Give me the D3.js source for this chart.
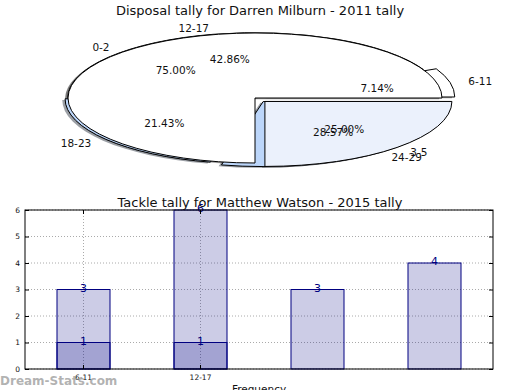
<!DOCTYPE html>
<html>
<head>
<meta charset="utf-8">
<script src="https://cdn.jsdelivr.net/npm/d3@7"></script>
<style>
  body { margin: 0; background: #fff; }
  svg { font-family: "DejaVu Sans", sans-serif; }
</style>
</head>
<body>
<div id="chart"></div>
<script>
"use strict";

// top pie(s) - disposals
var pieTitle = "Disposal tally for Darren Milburn - 2011 tally";
var innerLabels = ["0-2", "3-5"];
var innerValues = [3, 1];
var innerColors = ["#ffffff", "#ebf1fc"];
var outerLabels = ["6-11", "12-17", "18-23", "24-29"];
var outerValues = [1, 6, 3, 4];
var outerColors = ["#ffffff", "#ffffff", "#bcd6fa", "#bcd6fa"];

// bottom bars - tackles
var barTitle = "Tackle tally for Matthew Watson - 2015 tally";
var categories = ["6-11", "12-17", "18-23", "24-29"];
var totalValues = [3, 6, 3, 4];
var lowValues = [1, 1, 0, 0];
var xTickLabels = ["6-11", "12-17"];
var yTicks = [0, 1, 2, 3, 4, 5, 6];

var width = 520, height = 390;

var svg = d3.select("#chart").append("svg")
    .attr("width", width)
    .attr("height", height);

//=========================== pie
var cx = 255, cy = 98, rx = 187, ry = 65;

var arc = d3.arc().innerRadius(0).outerRadius(1);

// matplotlib style: start at 3 o'clock, go counter clockwise
var pie = d3.pie().sort(null)
    .startAngle(Math.PI / 2)
    .endAngle(Math.PI / 2 - 2 * Math.PI);

function offsetOf(d, dist) {
    var a = (d.startAngle + d.endAngle) / 2;
    return [Math.sin(a) * dist * rx, -Math.cos(a) * dist * ry];
}

function buildSlices(values, labels, colors, explode) {
    return pie(values).map(function (d, i) {
        d.label = labels[i];
        d.color = colors[i];
        d.explode = explode[i];
        d.pct = d3.format(".2f")(100 * d.value / d3.sum(values)) + "%";
        return d;
    });
}

var outerSlices = buildSlices(outerValues, outerLabels, outerColors, [0.07, 0.005, 0.02, 0.07]);
var innerSlices = buildSlices(innerValues, innerLabels, innerColors, [0, 0.075]);
var allSlices = outerSlices.concat(innerSlices);

var pieG = svg.append("g");

function shadowColor(c) {
    var rgb = d3.rgb(c);
    return d3.rgb(rgb.r * 0.3, rgb.g * 0.3, rgb.b * 0.3).toString();
}

// shadows go below every wedge
pieG.selectAll("path.shadow")
    .data(allSlices)
    .enter().append("path")
    .attr("class", "shadow")
    .attr("d", arc)
    .attr("fill", function (d) { return shadowColor(d.color); })
    .attr("fill-opacity", 0.5)
    .attr("transform", function (d) {
        var o = offsetOf(d, d.explode);
        return "translate(" + (cx + o[0] - 0.015 * rx) + "," + (cy + o[1] + 0.02 * ry) + ") scale(" + rx + "," + ry + ")";
    });

pieG.selectAll("path.wedge")
    .data(allSlices)
    .enter().append("path")
    .attr("class", "wedge")
    .attr("d", arc)
    .attr("fill", function (d) { return d.color; })
    .attr("stroke", "#000")
    .attr("stroke-width", 1)
    .attr("vector-effect", "non-scaling-stroke")
    .attr("transform", function (d) {
        var o = offsetOf(d, d.explode);
        return "translate(" + (cx + o[0]) + "," + (cy + o[1]) + ") scale(" + rx + "," + ry + ")";
    });

pieG.selectAll("text.lbl")
    .data(allSlices)
    .enter().append("text")
    .attr("class", "lbl")
    .attr("x", function (d) { return cx + offsetOf(d, d.explode + 1.1)[0]; })
    .attr("y", function (d) { return cy + offsetOf(d, d.explode + 1.1)[1]; })
    .attr("dy", "0.35em")
    .attr("text-anchor", function (d) { return offsetOf(d, 1)[0] < 0 ? "end" : "start"; })
    .attr("font-size", "10.5px")
    .attr("fill", "#111")
    .text(function (d) { return d.label; });

pieG.selectAll("text.pct")
    .data(allSlices)
    .enter().append("text")
    .attr("class", "pct")
    .attr("x", function (d) { return cx + offsetOf(d, d.explode + 0.6)[0]; })
    .attr("y", function (d) { return cy + offsetOf(d, d.explode + 0.6)[1]; })
    .attr("dy", "0.35em")
    .attr("text-anchor", "middle")
    .attr("font-size", "10.5px")
    .attr("fill", "#111")
    .text(function (d) { return d.pct; });

svg.append("text")
    .attr("x", 260).attr("y", 15)
    .attr("text-anchor", "middle")
    .attr("font-size", "13px")
    .attr("fill", "#111")
    .text(pieTitle);

//=========================== bars
var pLeft = 25, pRight = 493, pTop = 210, pBottom = 369;

var x = d3.scaleBand()
    .domain(categories)
    .range([pLeft, pRight])
    .paddingInner(0.547)
    .paddingOuter(0.547 / 2);

var y = d3.scaleLinear().domain([0, 6]).range([pBottom, pTop]);

var barG = svg.append("g");

// grid
barG.selectAll("line.hgrid")
    .data(yTicks)
    .enter().append("line")
    .attr("x1", pLeft).attr("x2", pRight)
    .attr("y1", function (d) { return y(d); })
    .attr("y2", function (d) { return y(d); })
    .attr("stroke", "#aaa")
    .attr("stroke-dasharray", "1,2");

barG.selectAll("line.vgrid")
    .data(xTickLabels)
    .enter().append("line")
    .attr("x1", function (d) { return x(d) + x.bandwidth() / 2; })
    .attr("x2", function (d) { return x(d) + x.bandwidth() / 2; })
    .attr("y1", pTop).attr("y2", pBottom)
    .attr("stroke", "#aaa")
    .attr("stroke-dasharray", "1,2");

function drawBars(values) {
    var data = categories.map(function (c, i) { return { cat: c, v: values[i] }; })
        .filter(function (d) { return d.v > 0; });

    barG.append("g").selectAll("rect")
        .data(data)
        .enter().append("rect")
        .attr("x", function (d) { return x(d.cat); })
        .attr("y", function (d) { return y(d.v); })
        .attr("width", x.bandwidth())
        .attr("height", function (d) { return pBottom - y(d.v); })
        .attr("fill", "navy")
        .attr("fill-opacity", 0.2)
        .attr("stroke", "navy")
        .attr("stroke-width", 1);

    barG.append("g").selectAll("text")
        .data(data)
        .enter().append("text")
        .attr("x", function (d) { return x(d.cat) + x.bandwidth() / 2; })
        .attr("y", function (d) { return y(d.v) + 2; })
        .attr("text-anchor", "middle")
        .attr("font-size", "11px")
        .attr("fill", "navy")
        .text(function (d) { return d.v; });
}

drawBars(totalValues);
drawBars(lowValues);

// frame
barG.append("rect")
    .attr("x", pLeft).attr("y", pTop)
    .attr("width", pRight - pLeft).attr("height", pBottom - pTop)
    .attr("fill", "none")
    .attr("stroke", "#000")
    .attr("stroke-width", 1);

// axes, matplotlib classic style ticks pointing inwards
var yAxisL = d3.axisLeft(y).tickValues(yTicks).tickFormat(d3.format("d")).tickSize(-4).tickPadding(5);
var yAxisR = d3.axisRight(y).tickValues(yTicks).tickSize(-4).tickFormat("");
var xAxisB = d3.axisBottom(x).tickValues(xTickLabels).tickSize(-4).tickPadding(6);
var xAxisT = d3.axisTop(x).tickValues(xTickLabels).tickSize(-4).tickFormat("");

function styleAxis(g) {
    g.select(".domain").remove();
    g.selectAll("text").attr("font-family", "DejaVu Sans").attr("font-size", "7.5px").attr("fill", "#111");
    g.selectAll("line").attr("stroke", "#000");
}

svg.append("g").attr("transform", "translate(" + pLeft + ",0)").call(yAxisL).call(styleAxis);
svg.append("g").attr("transform", "translate(" + pRight + ",0)").call(yAxisR).call(styleAxis);
svg.append("g").attr("transform", "translate(0," + pBottom + ")").call(xAxisB).call(styleAxis);
svg.append("g").attr("transform", "translate(0," + pTop + ")").call(xAxisT).call(styleAxis);

svg.append("text")
    .attr("x", 259).attr("y", 393)
    .attr("text-anchor", "middle")
    .attr("font-size", "10.5px")
    .attr("fill", "#111")
    .text("Frequency");

svg.append("text")
    .attr("x", 260).attr("y", 207)
    .attr("text-anchor", "middle")
    .attr("font-size", "13px")
    .attr("fill", "#111")
    .text(barTitle);

// watermark
svg.append("text")
    .attr("x", 0).attr("y", 385)
    .attr("font-size", "12px")
    .attr("font-weight", "bold")
    .attr("fill", "#999")
    .attr("fill-opacity", 0.75)
    .text("Dream-Stats.com");
</script>
</body>
</html>
